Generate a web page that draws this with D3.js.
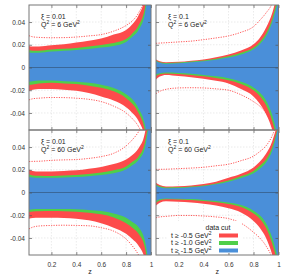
<!DOCTYPE html>
<html>
<head>
<meta charset="UTF-8">
<script src="https://d3js.org/d3.v7.min.js"></script>
<style>
  body { margin:0; background:#fff; }
  svg { display:block; font-family:"Liberation Sans", Arial, sans-serif; }
  .tick text { font-size:6.5px; fill:#333; }
  .note { font-size:7px; fill:#222; }
</style>
</head>
<body>
<svg width="293" height="276"></svg>
<script>
// z grid shared by all curves
const Z = [0.02, 0.05, 0.1, 0.2, 0.3, 0.4, 0.5, 0.6, 0.7, 0.8, 0.85, 0.9, 0.95, 1.0];

// xi = 0.01, Q2 = 6
const tlRedUp   = [.019, .0185, .0185, .0195, .0205, .022, .0235, .0255, .029, .033, .038, .046, .062, .12];
const tlGreenUp = [.0155, .0148, .0148, .0158, .0165, .0172, .0185, .0198, .0215, .025, .030, .037, .052, .10];
const tlBlueUp  = [.0135, .013, .013, .014, .0147, .0154, .0163, .0175, .019, .0225, .027, .033, .047, .09];
const tlBlueLo  = [-.0125, -.012, -.0115, -.0115, -.012, -.0125, -.0135, -.0151, -.018, -.0235, -.028, -.036, -.05, -.09];
const tlGreenLo = [-.0155, -.015, -.014, -.0135, -.014, -.0145, -.016, -.0178, -.021, -.027, -.032, -.040, -.055, -.10];
const tlRedLo   = [-.0205, -.0195, -.019, -.019, -.0195, -.0205, -.0225, -.0255, -.029, -.035, -.040, -.047, -.062, -.12];
const tlDotUp   = [.028, .027, .0265, .0262, .0263, .0268, .0278, .029, .032, .037, .041, .048, .062, .12];
const tlDotLo   = [-.0285, -.0275, -.027, -.0264, -.0265, -.027, -.028, -.030, -.034, -.040, -.045, -.052, -.065, -.12];

// xi = 0.1, Q2 = 6
const trRedUp   = [.0071, .0055, .0047, .005, .006, .0071, .009, .0115, .015, .0204, .026, .035, .048, .07];
const trGreenUp = [.0062, .0047, .004, .0043, .0052, .0062, .0078, .0098, .013, .0175, .0225, .030, .043, .065];
const trBlueUp  = [.0056, .0042, .0034, .0038, .0046, .0055, .0069, .0087, .0115, .016, .0205, .0275, .040, .06];
const trBlueLo  = [-.006, -.005, -.0045, -.0048, -.0055, -.0065, -.0078, -.0095, -.0125, -.0175, -.022, -.029, -.042, -.065];
const trGreenLo = [-.0075, -.006, -.0052, -.0058, -.0066, -.0078, -.0093, -.0112, -.0145, -.020, -.025, -.033, -.047, -.07];
const trRedLo   = [-.0105, -.008, -.0065, -.0075, -.0085, -.0098, -.0117, -.014, -.019, -.0255, -.032, -.041, -.055, -.08];
const trDotUp   = [.0213, .0215, .0218, .0225, .0232, .0245, .026, .0278, .031, .036, .0415, .048, .057, .08];
const trDotLo   = [-.023, -.021, -.0192, -.018, -.0178, -.018, -.0188, -.020, -.024, -.030, -.034, -.040, -.050, -.07];

// xi = 0.01, Q2 = 60
const blRedUp   = [.020, .019, .0185, .0185, .019, .0195, .021, .0225, .025, .029, .033, .039, .052, .09];
const blGreenUp = [.016, .015, .0147, .0145, .015, .0154, .0163, .0175, .0195, .0228, .027, .0317, .0435, .08];
const blBlueUp  = [.0139, .0133, .013, .013, .0133, .0136, .0144, .0154, .017, .0204, .024, .0287, .039, .075];
const blBlueLo  = [-.0151, -.0148, -.0145, -.0145, -.0145, -.0147, -.0153, -.0163, -.0185, -.0222, -.026, -.0305, -.042, -.08];
const blGreenLo = [-.0172, -.0168, -.0165, -.0163, -.0165, -.0169, -.0178, -.0192, -.022, -.027, -.031, -.0364, -.048, -.09];
const blRedLo   = [-.023, -.0225, -.0222, -.0222, -.0225, -.023, -.0245, -.027, -.031, -.0364, -.041, -.0468, -.0586, -.1];
const blDotUp   = [.0272, .0274, .0275, .0283, .0287, .029, .030, .0316, .0345, .041, .0464, .0535, .065, .1];
const blDotLo   = [-.032, -.0305, -.0295, -.029, -.0288, -.029, -.0293, -.031, -.034, -.041, -.047, -.055, -.068, -.1];

// xi = 0.1, Q2 = 60
const brRedUp   = [.0085, .0065, .0053, .0055, .0062, .0075, .0095, .013, .0165, .022, .027, .034, .045, .065];
const brGreenUp = [.007, .0055, .0045, .0046, .0052, .0062, .008, .0105, .0142, .019, .0235, .029, .040, .06];
const brBlueUp  = [.0062, .0047, .0038, .004, .0046, .0055, .0072, .0095, .0128, .017, .021, .0265, .037, .058];
const brBlueLo  = [-.0075, -.006, -.0052, -.0055, -.0058, -.0065, -.0075, -.0088, -.011, -.016, -.020, -.027, -.040, -.06];
const brGreenLo = [-.0088, -.007, -.006, -.0062, -.0066, -.0074, -.0086, -.0102, -.0128, -.0185, -.023, -.031, -.045, -.065];
const brRedLo   = [-.0115, -.009, -.0078, -.0082, -.0088, -.0098, -.0115, -.0138, -.0175, -.025, -.031, -.040, -.055, -.08];
const brDotUp   = [.0204, .0204, .0205, .021, .0215, .0222, .0235, .0249, .028, .032, .036, .041, .05, .065];
const brDotLo   = [-.0222, -.0215, -.021, -.0202, -.0202, -.0207, -.0215, -.023, -.027, -.035, -.040, -.047, -.058, -.08];

const xTicks = [0.2, 0.4, 0.6, 0.8, 1];
const yTicks = [-0.04, -0.02, 0, 0.02, 0.04];
const legendCuts = ["-0.5", "-1.0", "-1.5"];
const colors = { red: "#fd4b4b", green: "#4fcf4a", blue: "#4a8fd9" };

const panels = [
  { xi: "0.01", q2: "6",  col: 0, row: 0, red: [tlRedLo, tlRedUp], green: [tlGreenLo, tlGreenUp], blue: [tlBlueLo, tlBlueUp], dot: [tlDotLo, tlDotUp] },
  { xi: "0.1",  q2: "6",  col: 1, row: 0, red: [trRedLo, trRedUp], green: [trGreenLo, trGreenUp], blue: [trBlueLo, trBlueUp], dot: [trDotLo, trDotUp] },
  { xi: "0.01", q2: "60", col: 0, row: 1, red: [blRedLo, blRedUp], green: [blGreenLo, blGreenUp], blue: [blBlueLo, blBlueUp], dot: [blDotLo, blDotUp] },
  { xi: "0.1",  q2: "60", col: 1, row: 1, red: [brRedLo, brRedUp], green: [brGreenLo, brGreenUp], blue: [brBlueLo, brBlueUp], dot: [brDotLo, brDotUp] }
];

const colX = [[29, 151], [156, 278.5]];
const rowY = [[5, 130], [130, 255]];

const svg = d3.select("svg");
const defs = svg.append("defs");
const fmtY = d => d === 0 ? "0" : d3.format(".2f")(d).replace("\u2212", "-");

// text pieces; a piece followed by true gets a small raised "2"
function supText(sel, parts) {
  let back = 0;
  parts.forEach(([s, sup]) => {
    sel.append("tspan").attr("dy", back).text(s);
    back = 0;
    if (sup) {
      sel.append("tspan").attr("dy", -2.6).attr("font-size", 5).text("2");
      back = 2.6;
    }
  });
}

panels.forEach((p, i) => {
  const [x0, x1] = colX[p.col], [y0, y1] = rowY[p.row];
  const x = d3.scaleLinear().domain([0.02, 1]).range([x0, x1]);
  const y = d3.scaleLinear().domain([-0.055, 0.055]).range([y1, y0]);
  const g = svg.append("g");

  defs.append("clipPath").attr("id", "clip" + i)
    .append("rect").attr("x", x0).attr("y", y0).attr("width", x1 - x0).attr("height", y1 - y0);

  // grid
  g.append("g").selectAll("line").data([0.2, 0.4, 0.6, 0.8]).join("line")
    .attr("x1", d => x(d)).attr("x2", d => x(d)).attr("y1", y0).attr("y2", y1)
    .attr("stroke", "#ddd").attr("stroke-width", 0.6).attr("stroke-dasharray", "1.5,1.5");
  g.append("g").selectAll("line").data([-0.04, -0.02, 0.02, 0.04]).join("line")
    .attr("x1", x0).attr("x2", x1).attr("y1", d => y(d)).attr("y2", d => y(d))
    .attr("stroke", "#ddd").attr("stroke-width", 0.6).attr("stroke-dasharray", "1.5,1.5");

  const plot = g.append("g").attr("clip-path", `url(#clip${i})`);
  const band = ([lo, up]) => d3.area()
    .x((d, k) => x(Z[k])).y0((d, k) => y(lo[k])).y1((d, k) => y(up[k]))
    .curve(d3.curveMonotoneX)(Z);

  plot.append("path").attr("d", band(p.red)).attr("fill", colors.red);
  plot.append("path").attr("d", band(p.green)).attr("fill", colors.green);
  plot.append("path").attr("d", band(p.blue)).attr("fill", colors.blue);

  const line = arr => d3.line().x((d, k) => x(Z[k])).y((d, k) => y(arr[k])).curve(d3.curveMonotoneX)(Z);
  p.dot.forEach(arr => plot.append("path").attr("d", line(arr))
    .attr("fill", "none").attr("stroke", "#f44").attr("stroke-width", 0.9).attr("stroke-dasharray", "1.2,1.3"));

  // zero line
  plot.append("line").attr("x1", x0).attr("x2", x1).attr("y1", y(0)).attr("y2", y(0))
    .attr("stroke", "#3a6798").attr("stroke-width", 1.1);

  // inward ticks on all sides
  const axL = g.append("g").attr("transform", `translate(${x0},0)`)
    .call(d3.axisLeft(y).tickValues(yTicks).tickSizeInner(-3).tickSizeOuter(0).tickPadding(5)
      .tickFormat(p.col === 0 ? fmtY : ""));
  const axR = g.append("g").attr("transform", `translate(${x1},0)`)
    .call(d3.axisRight(y).tickValues(yTicks).tickSizeInner(-3).tickSizeOuter(0).tickFormat(""));
  const axB = g.append("g").attr("transform", `translate(0,${y1})`)
    .call(d3.axisBottom(x).tickValues(xTicks).tickSizeInner(-3).tickSizeOuter(0).tickPadding(5)
      .tickFormat(p.row === 1 ? d3.format("") : ""));
  const axT = g.append("g").attr("transform", `translate(0,${y0})`)
    .call(d3.axisTop(x).tickValues(xTicks).tickSizeInner(-3).tickSizeOuter(0).tickFormat(""));
  [axL, axR, axB, axT].forEach(a => {
    a.select(".domain").remove();
    a.selectAll(".tick line").attr("stroke", "#555").attr("stroke-width", 0.7);
    a.selectAll(".tick text").filter(function () { return !this.textContent; }).remove();
  });
  axL.selectAll(".tick text").attr("x", -4);
  axB.selectAll(".tick text").attr("y", 7);

  // frame
  g.append("rect").attr("x", x0).attr("y", y0).attr("width", x1 - x0).attr("height", y1 - y0)
    .attr("fill", "none").attr("stroke", "#777").attr("stroke-width", 1);

  // labels
  g.append("text").attr("class", "note").attr("x", x0 + 12).attr("y", y0 + 14).text("\u03be = " + p.xi);
  supText(g.append("text").attr("class", "note").attr("x", x0 + 12).attr("y", y0 + 21.5),
    [["Q", true], [" = " + p.q2 + " GeV", true]]);

  if (p.row === 1) {
    g.append("text").attr("class", "note").attr("x", (x0 + x1) / 2).attr("y", 274)
      .attr("text-anchor", "middle").text("z");
  }
});

// legend (lower right panel)
const lg = svg.append("g");
lg.append("rect").attr("x", 168).attr("y", 221).attr("width", 74).attr("height", 32).attr("fill", "#fff");
lg.append("text").attr("class", "note").attr("x", 218).attr("y", 229.5).attr("text-anchor", "middle").text("data cut");
const swatch = [colors.red, colors.green, colors.blue];
legendCuts.forEach((c, k) => {
  const yy = 235.5 + k * 7.5;
  supText(lg.append("text").attr("class", "note").attr("x", 171).attr("y", yy + 2.3),
    [["t \u2265 " + c + " GeV", true]]);
  lg.append("rect").attr("x", 219).attr("y", yy - 2).attr("width", 19).attr("height", 4).attr("fill", swatch[k]);
});
</script>
</body>
</html>
